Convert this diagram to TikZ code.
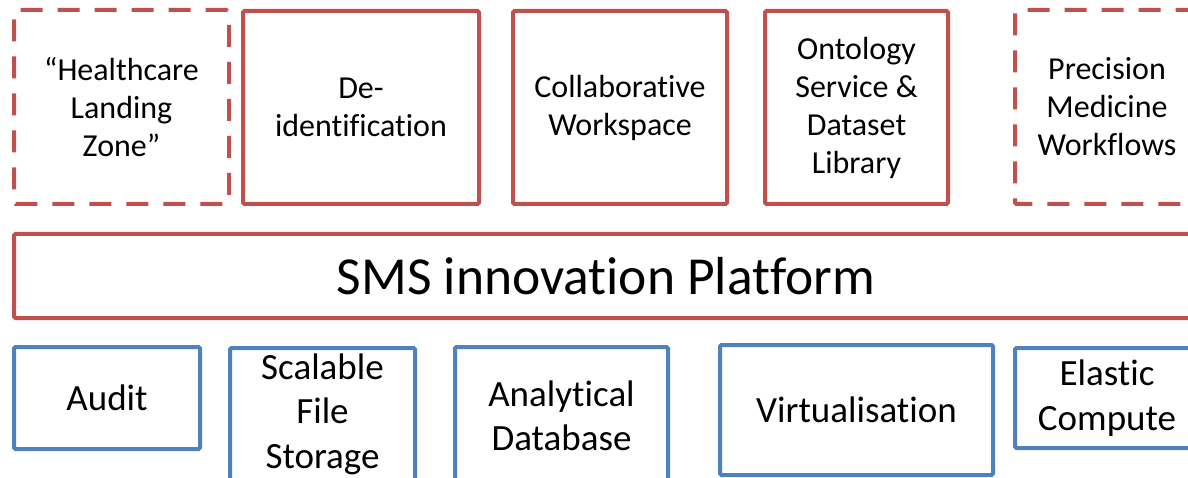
\documentclass[tikz,border=0pt]{standalone}
\usepackage{fontspec}
\setmainfont{Carlito}[Ligatures={NoCommon,NoContextual}]
\definecolor{offred}{HTML}{C0504D}
\definecolor{offblue}{HTML}{4F81BD}
\begin{document}
\begin{tikzpicture}[x=1pt,y=-1pt,
  box/.style={draw, line width=4pt, rounded corners=1.5pt, inner sep=0pt, align=center, text=black},
  redbox/.style={box, draw=offred, font=\fontsize{32}{38}\selectfont},
  redashed/.style={redbox, dash pattern=on 22pt off 15pt},
  bluebox/.style={box, draw=offblue, font=\fontsize{37}{44.5}\selectfont},
  platbox/.style={box, draw=offred, font=\fontsize{53.5}{60}\selectfont}]
\useasboundingbox (0,0) rectangle (1188,478);
% top row
\node[redashed, minimum width=215pt, minimum height=194pt] (hlz) at (121.5,107) {“Healthcare\\Landing\\Zone”};
\node[redbox, minimum width=236pt, minimum height=193pt] (deid) at (361,107.5) {De-\\identification};
\node[redbox, minimum width=214pt, minimum height=193pt] (collab) at (620,107.5) {Collaborative\\Workspace};
\node[redbox, minimum width=183pt, minimum height=193pt] (onto) at (856.5,107.5) {Ontology\\Service \&\\Dataset\\Library};
\node[redashed, minimum width=184pt, minimum height=194pt] (prec) at (1107,107) {Precision\\Medicine\\Workflows};
% platform
\node[platbox, minimum width=1184pt, minimum height=84pt] (sms) at (606,276) {SMS innovation Platform};
% bottom row
\node[bluebox, minimum width=186pt, minimum height=102pt] (audit) at (107,398) {Audit};
\node[bluebox, minimum width=185pt, minimum height=132pt] (sfs) at (322.5,414) {Scalable\\File\\Storage};
\node[bluebox, minimum width=213pt, minimum height=138pt] (adb) at (561.5,416) {Analytical\\Database};
\node[bluebox, minimum width=273pt, minimum height=130pt] (virt) at (856.5,410) {Virtualisation};
\node[bluebox, minimum width=184pt, minimum height=100pt] (ec) at (1107,398) {Elastic\\Compute};
\end{tikzpicture}
\end{document}
